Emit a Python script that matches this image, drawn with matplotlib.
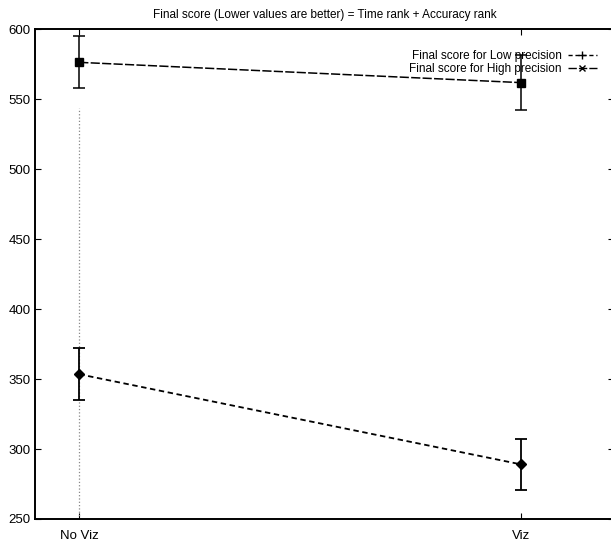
import matplotlib
matplotlib.use("Agg")
import matplotlib.pyplot as plt
from matplotlib.lines import Line2D

plt.rcParams['font.family'] = ['Liberation Sans', 'DejaVu Sans']

# conditions on the x axis
conditions = ['No Viz', 'Viz']
x_pos = [1, 2]

# final score (mean) and error for each precision level
low_score = [353.5, 289]
low_err = [18.5, 18.5]
high_score = [576.5, 562]
high_err = [18.5, 19.5]

fig = plt.figure(figsize=(6.11, 5.41), dpi=100)
# right edge sits just past the figure, as in the cropped scan
ax = fig.add_axes([0.0573, 0.0407, 0.9477, 0.9048])

# dotted guide at the first condition
ax.axvline(x_pos[0], ymin=0.0, ymax=0.84, color='#888888', linestyle=':', linewidth=0.9)

ax.errorbar(x_pos, low_score, yerr=low_err, color='black', linestyle=(0, (3, 2)),
            linewidth=1.3, marker='D', markersize=5, capsize=4, elinewidth=1.3,
            capthick=1.3, zorder=3)
ax.errorbar(x_pos, high_score, yerr=high_err, color='black', linestyle=(0, (6, 1.5)),
            linewidth=1.1, marker='s', markersize=6, capsize=4, elinewidth=1.1,
            capthick=1.1, zorder=3)

ax.set_xlim(0.9, 2.21)
ax.set_ylim(250, 600)
ax.set_xticks(x_pos)
ax.set_xticklabels(conditions, fontsize=9.5)
ax.set_yticks(range(250, 601, 50))
ax.tick_params(axis='y', labelsize=9.5, direction='in', right=True, length=4, pad=3)
ax.tick_params(axis='x', direction='in', top=True, length=4, pad=8)

for s in ax.spines.values():
    s.set_linewidth(1.4)

ax.set_title('Final score (Lower values are better) = Time rank + Accuracy rank',
             fontsize=8.5, pad=8)

handles = [
    Line2D([], [], color='black', linestyle=(0, (3, 2)), marker='+', markersize=6, linewidth=1),
    Line2D([], [], color='black', linestyle=(0, (6, 1.5)), marker='x', markersize=5, linewidth=1),
]
ax.legend(handles, ['Final score for Low precision', 'Final score for High precision'],
          loc='upper right', bbox_to_anchor=(0.985, 0.975), frameon=False,
          markerfirst=False, fontsize=8.5, handlelength=2.5, labelspacing=0.1,
          borderpad=0.2, handletextpad=0.5)

fig.savefig('out.png', dpi=100)
